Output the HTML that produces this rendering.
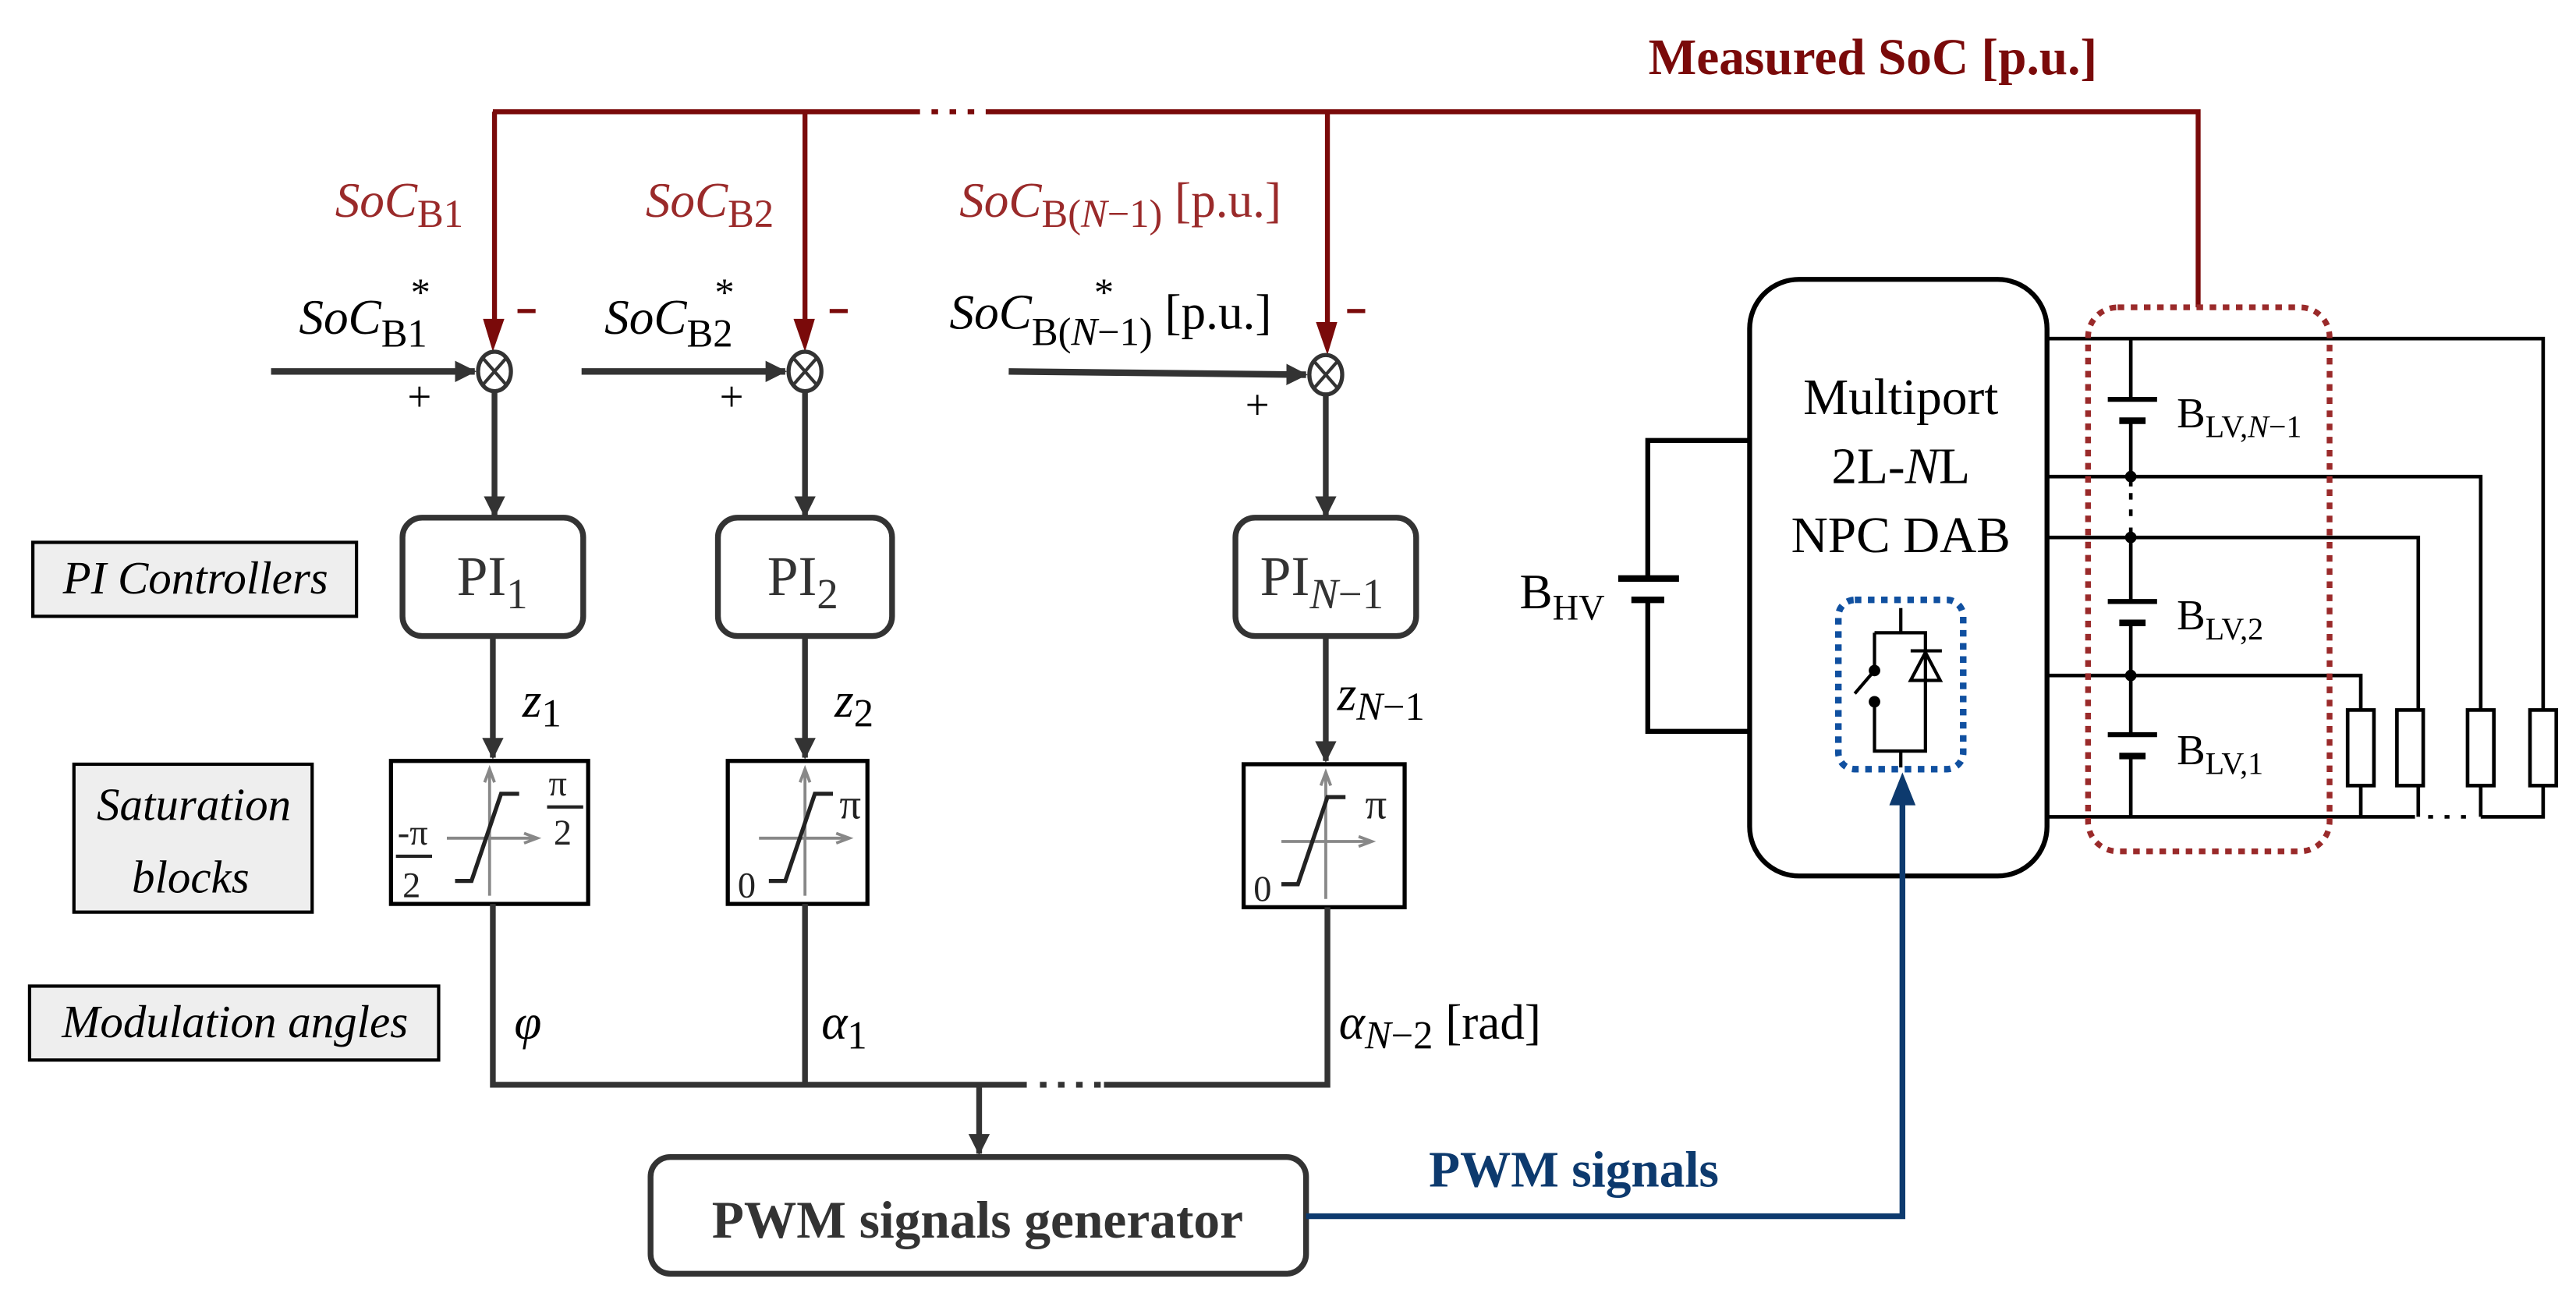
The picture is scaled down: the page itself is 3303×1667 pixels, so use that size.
<!DOCTYPE html>
<html><head><meta charset="utf-8"><style>
html,body{margin:0;padding:0;background:#fff;}
svg{display:block;}
svg, svg text, svg tspan{font-family:"Liberation Serif","Times New Roman",Times,"DejaVu Serif",serif;}
</style></head><body>
<svg width="3303" height="1667" viewBox="0 0 1568 791" preserveAspectRatio="none" xmlns="http://www.w3.org/2000/svg">
<defs>
<marker id="ad" markerWidth="14" markerHeight="14" refX="12" refY="7" orient="auto" markerUnits="userSpaceOnUse"><path d="M0,0.5 L13,7 L0,13.5 Z" fill="#333"/></marker>
</defs>
<text x="1140" y="45" text-anchor="middle" font-size="31" font-weight="bold" fill="#7a0a0a">Measured SoC [p.u.]</text>
<g stroke="#7a0a0a" stroke-width="3" fill="none">
<path d="M300,68 H560 M600,68 H1338 V187"/>
<path d="M567,68h4 M578,68h4 M589,68h4"/>
<path d="M301,68 V200 M490,68 V200 M808,68 V202"/>
</g>
<g fill="#7a0a0a">
<path d="M294,194 L307,194 L300,214 Z"/><path d="M483,194 L496,194 L490,214 Z"/><path d="M801,196 L814,196 L808,216 Z"/>
<rect x="315" y="188" width="11" height="2.5"/><rect x="505" y="188" width="11" height="2.5"/><rect x="820" y="188" width="11" height="2.5"/>
</g>
<g fill="#9a2a2a" font-size="30">
<text x="204" y="132"><tspan font-style="italic">SoC</tspan><tspan font-size="24" dy="6">B1</tspan></text>
<text x="393" y="132"><tspan font-style="italic">SoC</tspan><tspan font-size="24" dy="6">B2</tspan></text>
<text x="584" y="132"><tspan font-style="italic">SoC</tspan><tspan font-size="24" dy="6">B(<tspan font-style="italic">N</tspan>−1)</tspan><tspan dy="-6"> [p.u.]</tspan></text>
</g>
<g fill="#000" font-size="30">
<text x="182" y="203"><tspan font-style="italic">SoC</tspan><tspan font-size="24" dy="8">B1</tspan></text>
<text x="250" y="186" font-size="24">*</text>
<text x="368" y="203"><tspan font-style="italic">SoC</tspan><tspan font-size="24" dy="8">B2</tspan></text>
<text x="435" y="186" font-size="24">*</text>
<text x="578" y="200"><tspan font-style="italic">SoC</tspan><tspan font-size="24" dy="10">B(<tspan font-style="italic">N</tspan>−1)</tspan><tspan dy="-10"> [p.u.]</tspan></text>
<text x="666" y="186" font-size="24">*</text>
<text x="248" y="250" font-size="26">+</text>
<text x="438" y="250" font-size="26">+</text>
<text x="758" y="255" font-size="26">+</text>
</g>
<g stroke="#333" stroke-width="4" fill="none">
<path d="M165,226 H289" marker-end="url(#ad)"/>
<path d="M354,226 H478" marker-end="url(#ad)"/>
<path d="M614,226 L795,228" marker-end="url(#ad)"/>
</g>
<g stroke="#333" stroke-width="2.5" fill="#fff">
<ellipse cx="301" cy="226" rx="10" ry="12"/><ellipse cx="490" cy="226" rx="10" ry="12"/><ellipse cx="807" cy="228" rx="10" ry="12"/>
</g>
<g stroke="#333" stroke-width="2">
<path d="M294,218 L308,234 M308,218 L294,234"/><path d="M483,218 L497,234 M497,218 L483,234"/><path d="M800,220 L814,236 M814,220 L800,236"/>
</g>
<g stroke="#333" stroke-width="3.5" fill="none">
<path d="M301,238 V314" marker-end="url(#ad)"/>
<path d="M490,238 V314" marker-end="url(#ad)"/>
<path d="M807,240 V314" marker-end="url(#ad)"/>
<path d="M300,387 V461" marker-end="url(#ad)"/>
<path d="M490,387 V461" marker-end="url(#ad)"/>
<path d="M807,387 V463" marker-end="url(#ad)"/>
</g>
<g stroke="#333" stroke-width="3.5" fill="#fff">
<rect x="245" y="315" width="110" height="72" rx="12"/>
<rect x="437" y="315" width="106" height="72" rx="12"/>
<rect x="752" y="315" width="110" height="72" rx="12"/>
</g>
<g fill="#333" font-size="34">
<text x="278" y="362">PI<tspan font-size="26" dy="8">1</tspan></text>
<text x="467" y="362">PI<tspan font-size="26" dy="8">2</tspan></text>
<text x="767" y="362">PI<tspan font-size="26" dy="8"><tspan font-style="italic">N</tspan>−1</tspan></text>
</g>
<g fill="#000" font-size="30" font-style="italic">
<text x="318" y="436">z<tspan font-style="normal" font-size="24" dy="6">1</tspan></text>
<text x="508" y="436">z<tspan font-style="normal" font-size="24" dy="6">2</tspan></text>
<text x="814" y="432">z<tspan font-size="24" dy="6">N</tspan><tspan font-style="normal" font-size="24">−1</tspan></text>
</g>
<g stroke="#000" stroke-width="2.5" fill="#fff">
<rect x="238" y="463" width="120" height="87"/>
<rect x="443" y="463" width="85" height="87"/>
<rect x="757" y="465" width="98" height="87"/>
</g>
<g stroke="#888" stroke-width="1.8" fill="none">
<path d="M298,545 V470 M295,476 L298,468 L301,476"/><path d="M272,510 H325 M319,507 L327,510 L319,513"/>
<path d="M490,545 V470 M487,476 L490,468 L493,476"/><path d="M462,510 H515 M509,507 L517,510 L509,513"/>
<path d="M807,547 V472 M804,478 L807,470 L810,478"/><path d="M780,512 H833 M827,509 L835,512 L827,515"/>
</g>
<g stroke="#222" stroke-width="2.5" fill="none">
<path d="M277,536 H287 L305,483 H316"/>
<path d="M468,536 H478 L496,483 H507"/>
<path d="M780,538 H790 L808,485 H819"/>
</g>
<g fill="#222" font-size="22">
<text x="242" y="514">-π</text><rect x="241" y="520" width="22" height="2"/><text x="245" y="546">2</text>
<text x="334" y="484">π</text><rect x="333" y="490" width="22" height="2"/><text x="337" y="514">2</text>
<text x="449" y="546">0</text><text x="511" y="498" font-size="26">π</text>
<text x="763" y="548">0</text><text x="831" y="498" font-size="26">π</text>
</g>
<g stroke="#333" stroke-width="3.5" fill="none">
<path d="M300,550 V660 H625 M672,660 H808 V552 M490,550 V660"/>
<path d="M633,660h4 M644,660h4 M655,660h4 M666,660h4"/>
<path d="M596,660 V702" marker-end="url(#ad)"/>
</g>
<g fill="#000" font-size="30" font-style="italic">
<text x="313" y="632">φ</text>
<text x="500" y="632">α<tspan font-style="normal" font-size="24" dy="6">1</tspan></text>
<text x="815" y="632">α<tspan font-size="24" dy="6">N</tspan><tspan font-style="normal" font-size="24">−2</tspan><tspan font-style="normal" dy="-6"> [rad]</tspan></text>
</g>
<rect x="396" y="704" width="399" height="71" rx="12" stroke="#333" stroke-width="3.5" fill="#fff"/>
<text x="595" y="753" text-anchor="middle" font-size="32" font-weight="bold" fill="#333">PWM signals generator</text>
<g stroke="#000" stroke-width="2" fill="#eee">
<rect x="20" y="330" width="197" height="45"/>
<rect x="45" y="465" width="145" height="90"/>
<rect x="18" y="600" width="249" height="45"/>
</g>
<g font-style="italic" font-size="28" fill="#000" text-anchor="middle">
<text x="119" y="361">PI Controllers</text>
<text x="118" y="499">Saturation</text>
<text x="116" y="543">blocks</text>
<text x="143" y="631">Modulation angles</text>
</g>
<rect x="1065" y="170" width="181" height="363" rx="30" stroke="#000" stroke-width="3" fill="#fff"/>
<g font-size="31" fill="#000" text-anchor="middle">
<text x="1157" y="252">Multiport</text>
<text x="1157" y="294">2L-<tspan font-style="italic">N</tspan>L</text>
<text x="1157" y="336">NPC DAB</text>
</g>
<rect x="1119" y="365" width="76" height="103" rx="10" stroke="#1050a0" stroke-width="4" stroke-dasharray="4,4" fill="none"/>
<g stroke="#000" stroke-width="2" fill="none">
<path d="M1157,370 V385 M1141,385 H1172 V457 H1141 V427 M1141,385 V408 M1141,408 L1129,422 M1157,457 V467"/>
<path d="M1163,396 H1182 M1172,397 L1163,414 H1181 Z"/>
</g>
<circle cx="1141" cy="408" r="3.5"/><circle cx="1141" cy="427" r="3.5"/>
<path d="M795,740 H1158 V488" stroke="#0d3a6e" stroke-width="3.5" fill="none"/>
<path d="M1150,490 L1166,490 L1158,470 Z" fill="#0d3a6e"/>
<text x="958" y="722" text-anchor="middle" font-size="31" font-weight="bold" fill="#0d3a6e">PWM signals</text>
<g stroke="#000" stroke-width="3" fill="none">
<path d="M1065,268 H1003 V352 M1003,365 V445 H1065"/>
<path d="M985,352 H1022 M993,365 H1013" stroke-width="4"/>
</g>
<text x="925" y="370" font-size="30">B<tspan font-size="22" dy="7">HV</tspan></text>
<g stroke="#000" stroke-width="2.2" fill="none">
<path d="M1246,206 H1548 V432 M1246,290 H1510 V432 M1246,327 H1472 V432 M1246,411 H1437 V432"/>
<path d="M1246,497 H1470 M1510,497 H1548 V478 M1437,478 V497 M1472,478 V497 M1510,478 V497"/>
<path d="M1478,497h3 M1488,497h3 M1498,497h3"/>
<path d="M1297,206 V243 M1297,256 V296 M1297,321 V366 M1297,379 V447 M1297,460 V497"/>
<path d="M1297,300 v4 M1297,310 v4"/>
<rect x="1429" y="432" width="16" height="46"/><rect x="1459" y="432" width="16" height="46"/>
<rect x="1502" y="432" width="16" height="46"/><rect x="1540" y="432" width="16" height="46"/>
<path d="M1283,243 H1313 M1283,366 H1313 M1283,447 H1313" stroke-width="3"/>
<path d="M1290,256 H1306 M1290,379 H1306 M1290,460 H1306" stroke-width="4"/>
</g>
<circle cx="1297" cy="290" r="3.5"/><circle cx="1297" cy="327" r="3.5"/><circle cx="1297" cy="411" r="3.5"/>
<g font-size="26" fill="#000">
<text x="1325" y="260">B<tspan font-size="19" dy="6">LV,<tspan font-style="italic">N</tspan>−1</tspan></text>
<text x="1325" y="383">B<tspan font-size="19" dy="6">LV,2</tspan></text>
<text x="1325" y="465">B<tspan font-size="19" dy="6">LV,1</tspan></text>
</g>
<rect x="1271" y="187" width="147" height="331" rx="18" stroke="#9a2a2a" stroke-width="3.5" stroke-dasharray="4,4" fill="none"/>
</svg>
</body></html>
